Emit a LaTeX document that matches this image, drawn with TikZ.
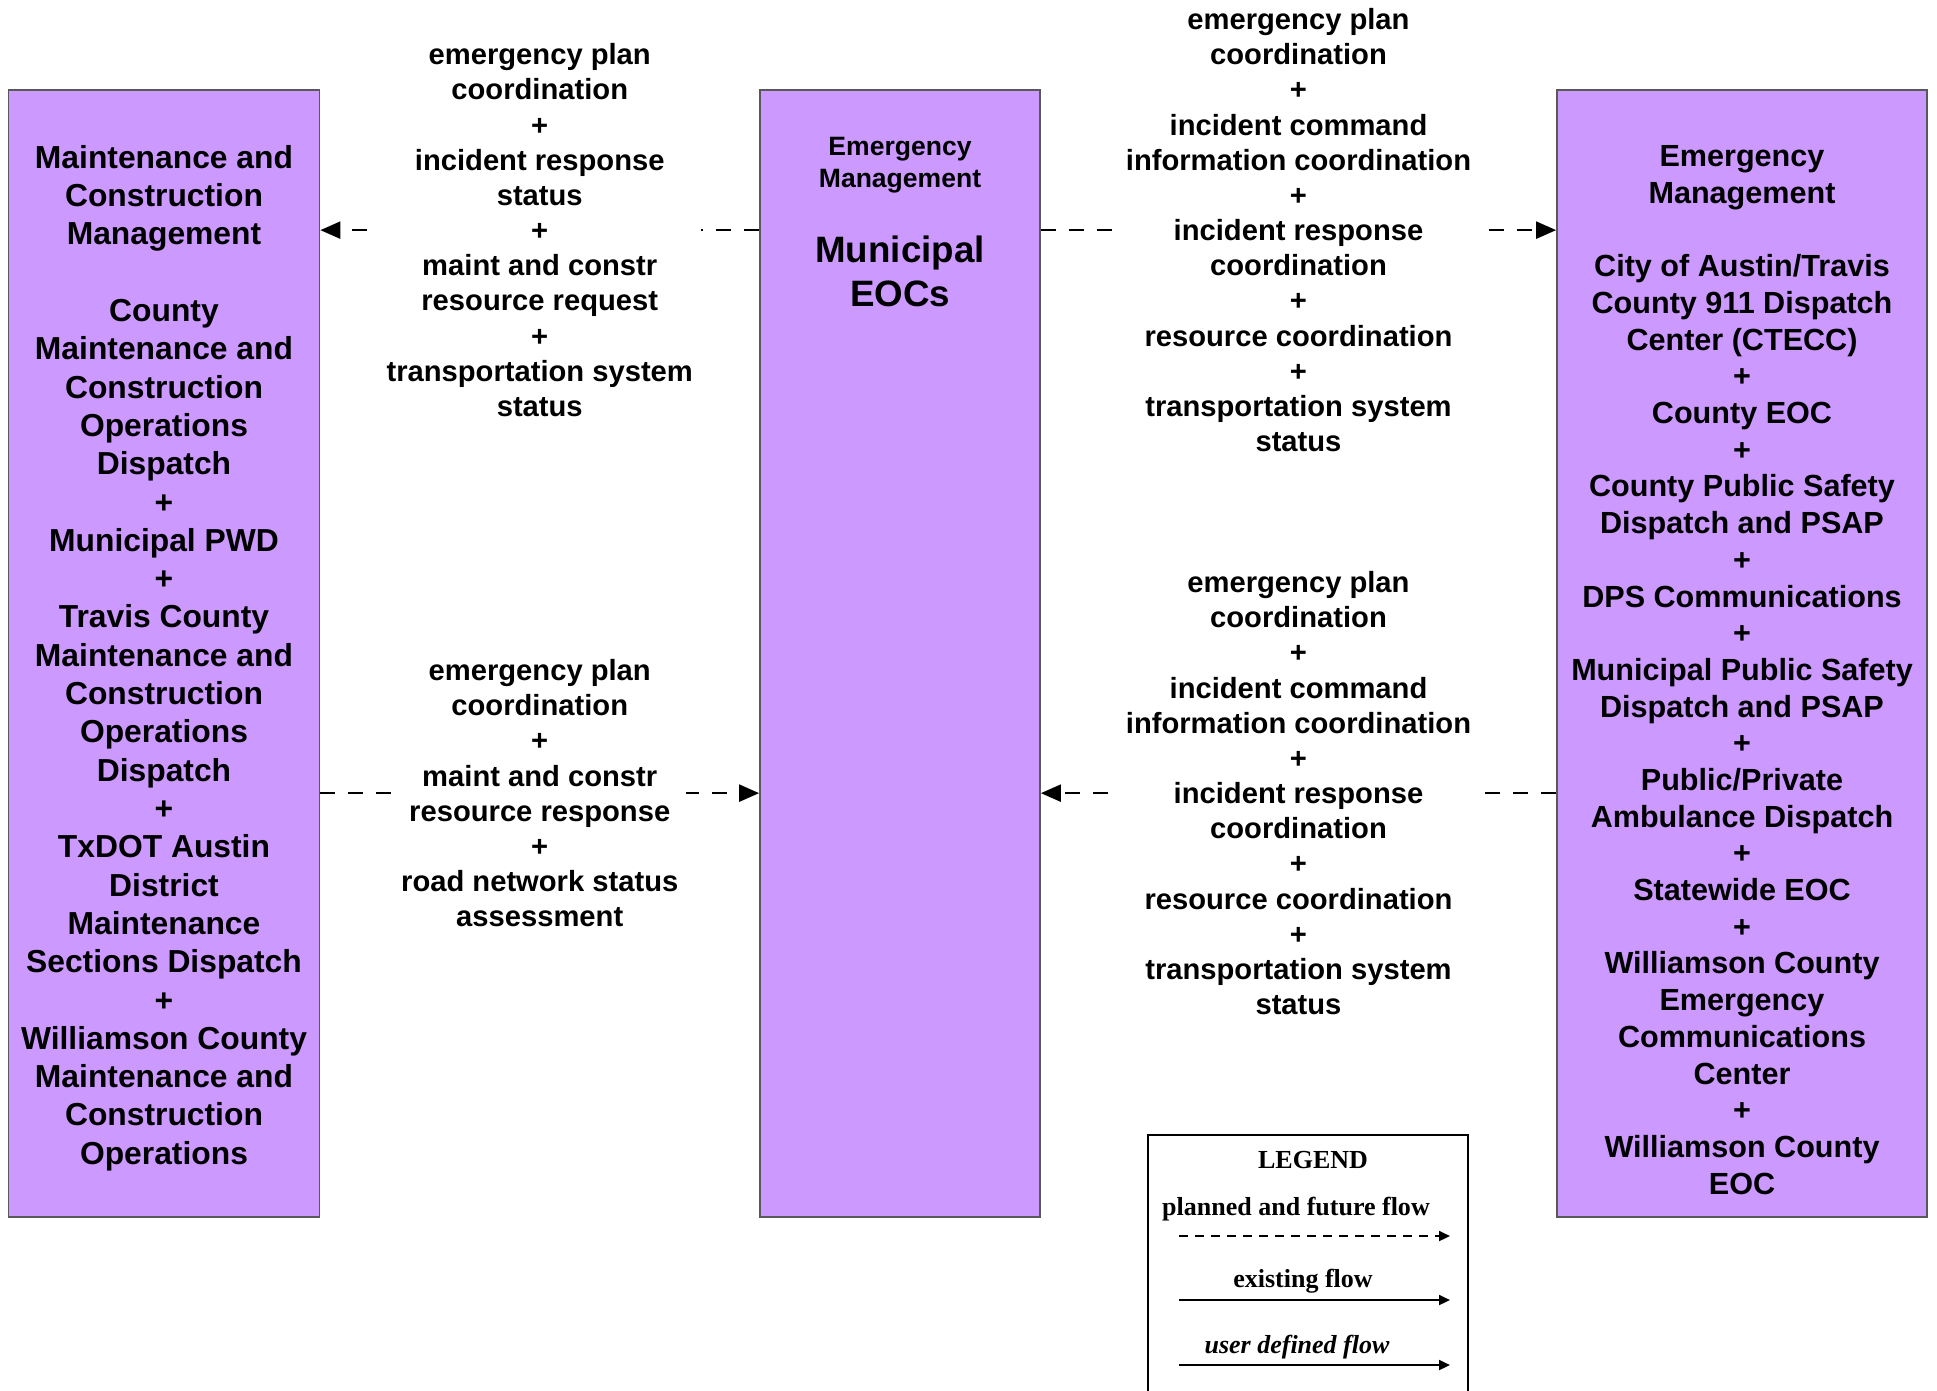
\documentclass[tikz,border=0pt]{standalone}
\usepackage{fontspec}
\setmainfont{Liberation Sans}
\newfontfamily\legendfont{Liberation Serif}
\usetikzlibrary{arrows.meta}

\definecolor{boxpurple}{RGB}{204,153,255}

\tikzset{
  box/.style={draw=black!65, line width=0.5pt, fill=boxpurple, minimum height=11.27cm, inner sep=0pt},
  boxtext/.style={align=center, inner sep=0pt},
  flow/.style={line width=0.65pt, dash pattern=on 1.5mm off 1.3mm, -{Triangle[length=2mm,width=1.7mm]}},
  flowlabel/.style={fill=white, align=center, inner xsep=0.8mm, inner ysep=0.5mm, font=\fontsize{8.3}{10}\selectfont\bfseries},
  legendtext/.style={font=\legendfont\bfseries\fontsize{7.4}{9}\selectfont},
  legendarrow/.style={line width=0.55pt, -{Triangle[length=1.1mm,width=1.0mm]}}
}

\begin{document}
\begin{tikzpicture}
    \useasboundingbox (0,0) rectangle (19.37,-13.90);

    % Boxes
    \node[box, minimum width=3.11cm] (maint) at (1.64,-6.535) {};
    \node[box, minimum width=2.80cm] (eoc) at (9.00,-6.535) {};
    \node[box, minimum width=3.70cm] (emerg) at (17.42,-6.535) {};

    % Left box text
    \node[boxtext, font=\fontsize{9.05}{10.9}\selectfont\bfseries] (maintname) at (1.64,-6.58) {%
      Maintenance and\\Construction\\Management\\[10.9pt]County\\Maintenance and\\Construction\\Operations\\Dispatch\\+\\%
      Municipal PWD\\+\\Travis County\\Maintenance and\\Construction\\Operations\\Dispatch\\+\\%
      TxDOT Austin\\District\\Maintenance\\Sections Dispatch\\+\\Williamson County\\Maintenance and\\Construction\\Operations};

    % Middle box text
    \node[boxtext, font=\fontsize{7.55}{9.1}\selectfont\bfseries] (eoctype) at (9.00,-1.65) {Emergency\\Management};
    \node[boxtext, font=\fontsize{10.45}{12.5}\selectfont\bfseries] (eocname) at (9.00,-2.715) {Municipal\\EOCs};

    % Right box text
    \node[boxtext, font=\fontsize{8.7}{10.44}\selectfont\bfseries] (emergname) at (17.42,-6.70) {%
      Emergency\\Management\\[10.44pt]City of Austin/Travis\\County 911 Dispatch\\Center (CTECC)\\+\\County EOC\\+\\%
      County Public Safety\\Dispatch and PSAP\\+\\DPS Communications\\+\\Municipal Public Safety\\Dispatch and PSAP\\+\\%
      Public/Private\\Ambulance Dispatch\\+\\Statewide EOC\\+\\Williamson County\\Emergency\\Communications\\Center\\+\\%
      Williamson County\\EOC};

    % Flows
    \draw[flow] ([yshift=-1.41cm]eoc.north west) -- node[flowlabel] (mcrequest) {emergency plan\\coordination\\+\\incident response\\status\\+\\maint and constr\\resource request\\+\\transportation system\\status} ([yshift=-1.41cm]maint.north east);
    \draw[flow] ([yshift=-1.41cm]eoc.north east) -- node[flowlabel] (eoctoemerg) {emergency plan\\coordination\\+\\incident command\\information coordination\\+\\incident response\\coordination\\+\\resource coordination\\+\\transportation system\\status} ([yshift=-1.41cm]emerg.north west);
    \draw[flow] ([yshift=-7.04cm]maint.north east) -- node[flowlabel] (mcresponse) {emergency plan\\coordination\\+\\maint and constr\\resource response\\+\\road network status\\assessment} ([yshift=-7.04cm]eoc.north west);
    \draw[flow] ([yshift=-7.04cm]emerg.north west) -- node[flowlabel] (emergtoeoc) {emergency plan\\coordination\\+\\incident command\\information coordination\\+\\incident response\\coordination\\+\\resource coordination\\+\\transportation system\\status} ([yshift=-7.04cm]eoc.north east);

    % Legend
    \draw[line width=0.8pt] (11.48,-11.35) rectangle (14.68,-14.40);
    \node[legendtext] (legtitle) at (13.13,-11.60) {LEGEND};
    \node[legendtext] (legplanned) at (12.96,-12.09) {planned and future flow};
    \draw[legendarrow, dash pattern=on 0.9mm off 0.7mm] (11.79,-12.36) -- (14.50,-12.36);
    \node[legendtext] (legexisting) at (13.03,-12.81) {existing flow};
    \draw[legendarrow] (11.79,-13.00) -- (14.50,-13.00);
    \node[legendtext, font=\legendfont\bfseries\itshape\fontsize{7.4}{9}\selectfont] (leguser) at (12.97,-13.47) {user defined flow};
    \draw[legendarrow] (11.79,-13.65) -- (14.50,-13.65);
\end{tikzpicture}
\end{document}
